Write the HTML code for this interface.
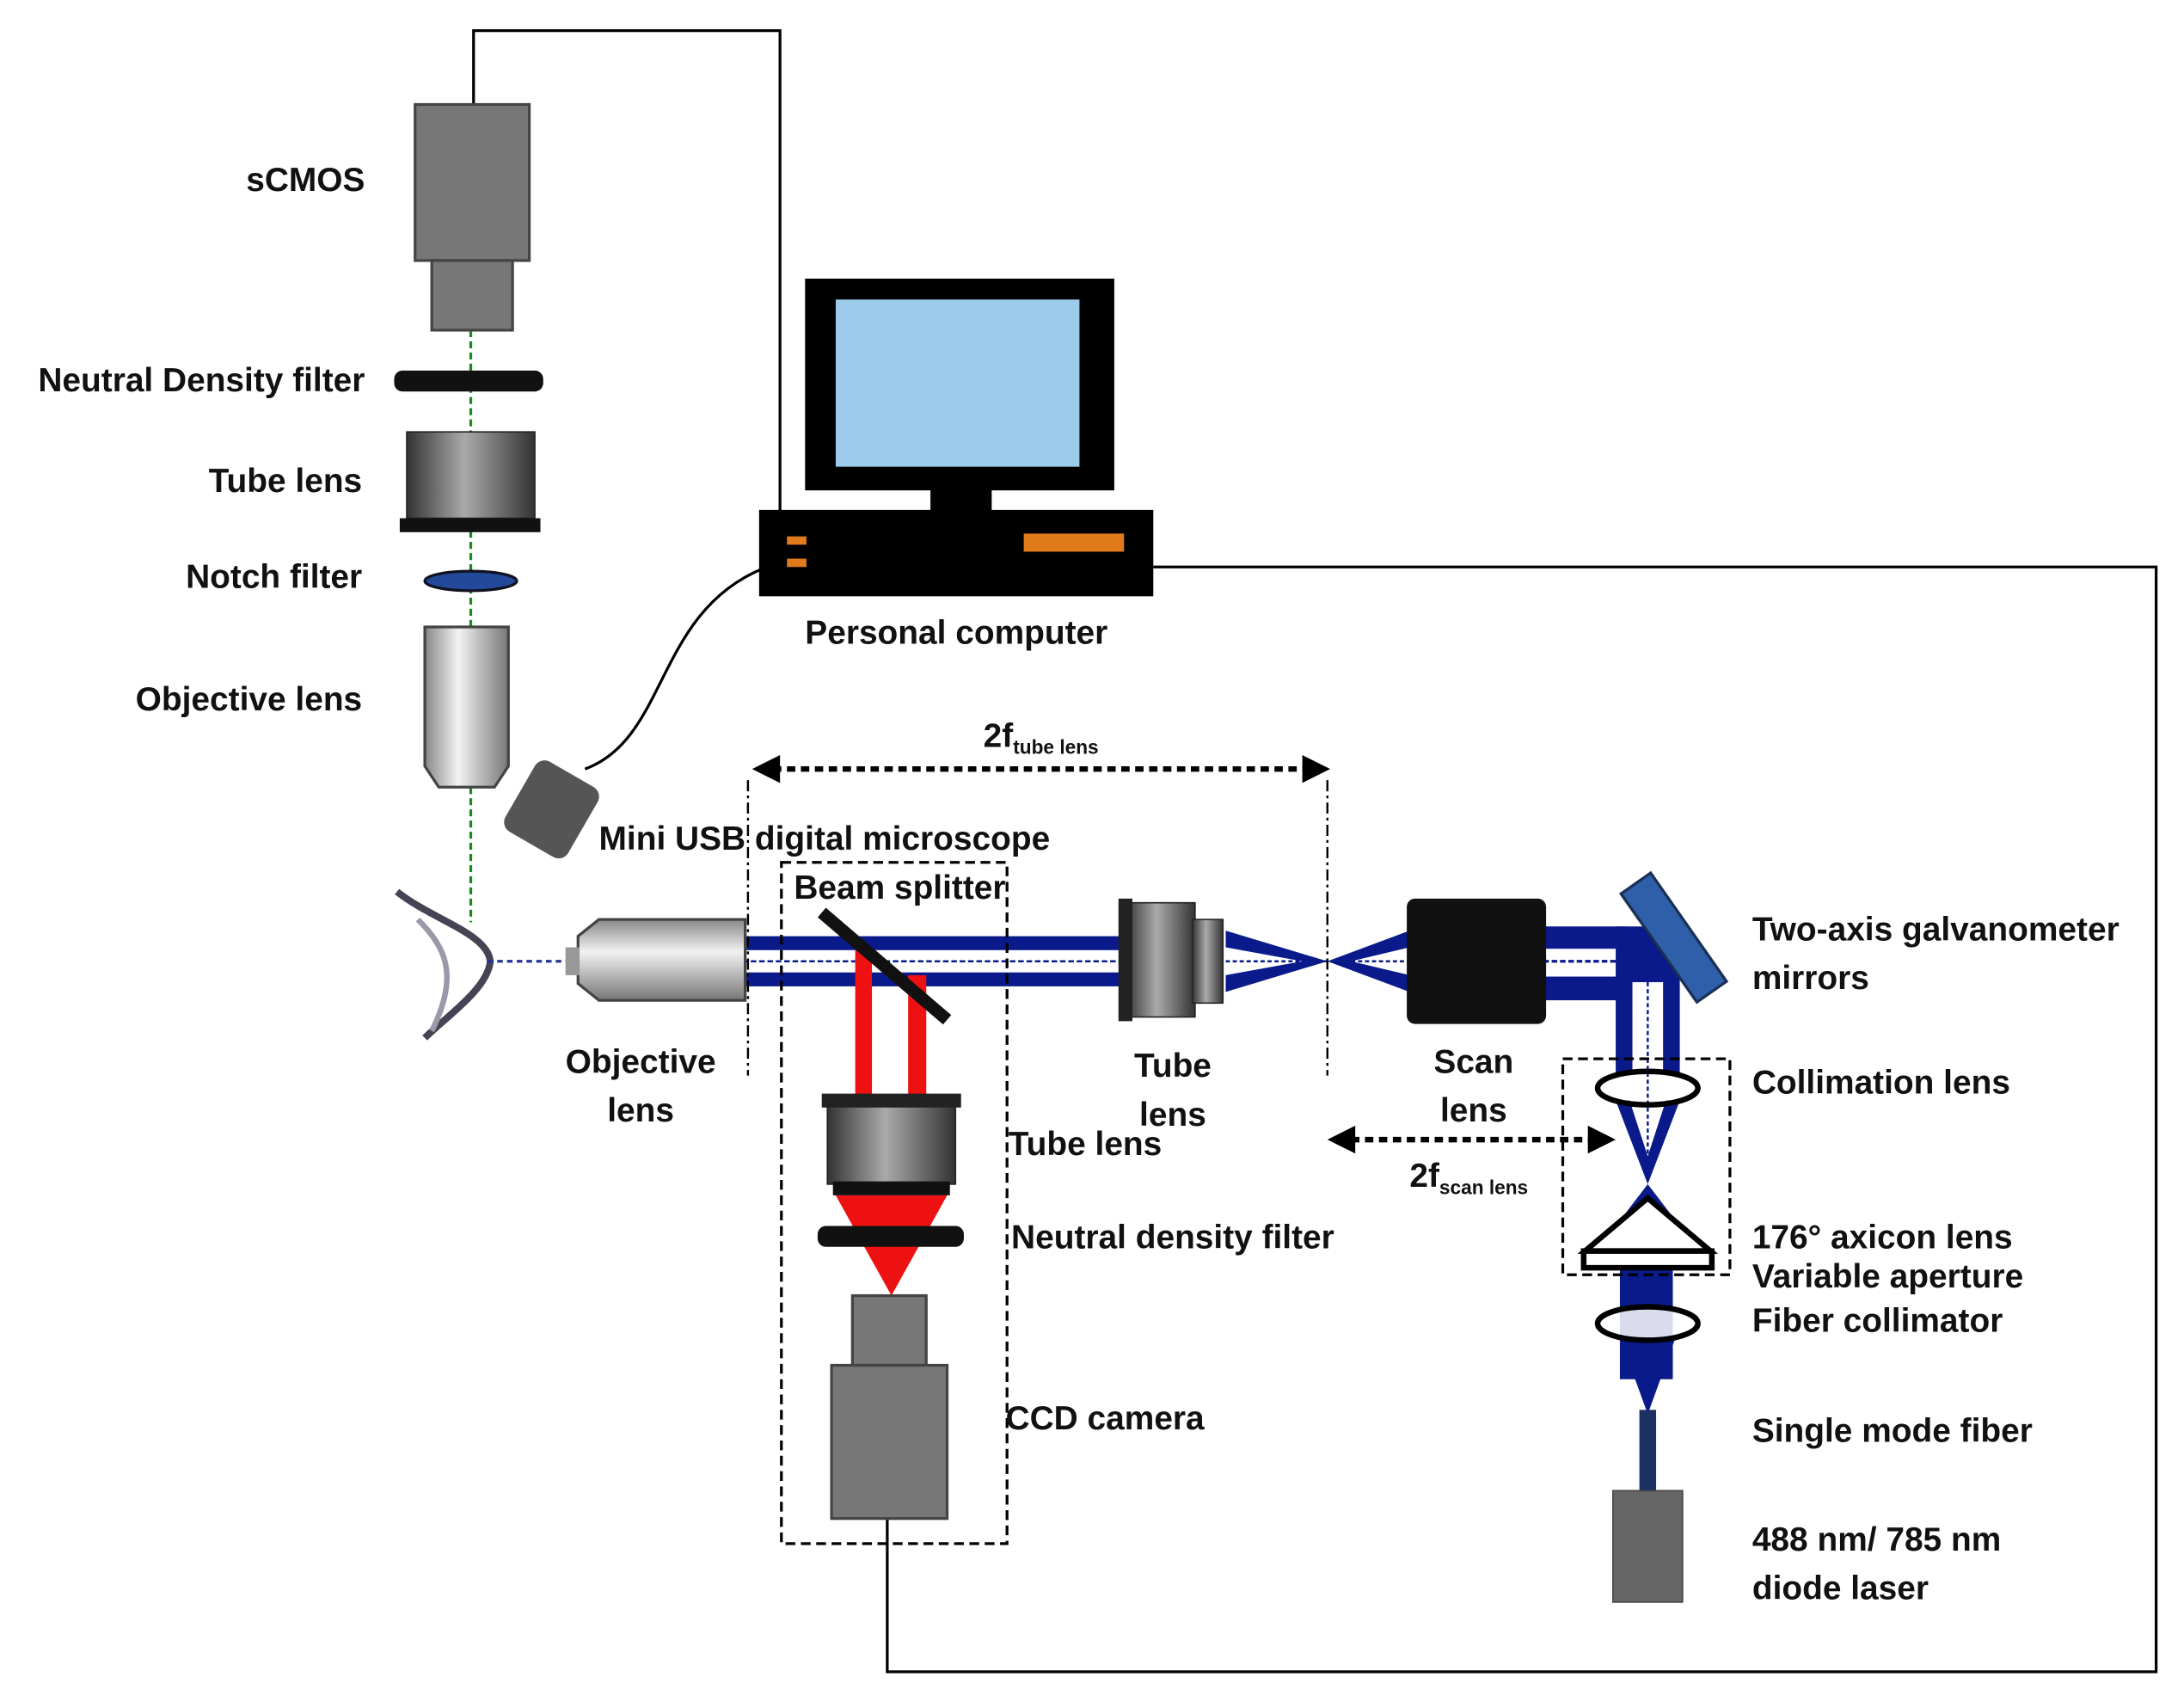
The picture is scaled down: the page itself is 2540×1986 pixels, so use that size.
<!DOCTYPE html>
<html><head><meta charset="utf-8"><style>
html,body{margin:0;padding:0;background:#fff}
svg{display:block}
text{font-family:"Liberation Sans",sans-serif;font-weight:bold;font-size:24px;fill:#111}
</style></head><body>
<svg width="2540" height="1986" viewBox="0 0 1568 1226" preserveAspectRatio="none" xmlns="http://www.w3.org/2000/svg">
<defs>
<linearGradient id="g1" x1="0" x2="1" y1="0" y2="0">
<stop offset="0" stop-color="#333"/><stop offset="0.45" stop-color="#aaa"/><stop offset="1" stop-color="#333"/></linearGradient>
<linearGradient id="g2" x1="0" x2="1" y1="0" y2="0">
<stop offset="0" stop-color="#888"/><stop offset="0.4" stop-color="#f2f2f2"/><stop offset="1" stop-color="#777"/></linearGradient>
<linearGradient id="g3" x1="0" x2="0" y1="0" y2="1">
<stop offset="0" stop-color="#888"/><stop offset="0.4" stop-color="#f2f2f2"/><stop offset="1" stop-color="#777"/></linearGradient>
<linearGradient id="g4" x1="0" x2="1" y1="0" y2="0">
<stop offset="0" stop-color="#333"/><stop offset="0.45" stop-color="#aaa"/><stop offset="1" stop-color="#333"/></linearGradient>
</defs>
<!-- wires -->
<polyline points="340,75 340,22 560,22 560,372" fill="none" stroke="#000" stroke-width="2"/>
<polyline points="828,407 1548,407 1548,1200 637,1200 637,1090" fill="none" stroke="#000" stroke-width="2"/>
<path d="M420,552 C480,530 470,440 548,408" fill="none" stroke="#000" stroke-width="2"/>
<!-- sCMOS column -->
<line x1="338" y1="237" x2="338" y2="662" stroke="#1a8a1a" stroke-width="2" stroke-dasharray="5,3"/>
<rect x="298" y="75" width="82" height="112" fill="#777" stroke="#444" stroke-width="2"/>
<rect x="310" y="187" width="58" height="50" fill="#777" stroke="#444" stroke-width="2"/>
<rect x="283" y="266" width="107" height="15" rx="6" fill="#111"/>
<rect x="292" y="310" width="92" height="62" fill="url(#g1)" stroke="#222"/>
<rect x="287" y="372" width="101" height="10" fill="#111"/>
<ellipse cx="338" cy="417" rx="33" ry="7" fill="#234a9a" stroke="#112" stroke-width="2"/>
<path d="M305,450 h60 v100 l-10,15 h-40 l-10,-15 z" fill="url(#g2)" stroke="#444" stroke-width="2"/>
<rect x="370" y="552" width="52" height="58" rx="8" fill="#555" transform="rotate(30 396 581)"/>
<!-- computer -->
<rect x="578" y="200" width="222" height="152" fill="#000"/>
<rect x="600" y="215" width="175" height="120" fill="#9ccbec"/>
<rect x="668" y="350" width="44" height="18" fill="#000"/>
<rect x="545" y="366" width="283" height="62" fill="#000"/>
<rect x="565" y="385" width="14" height="6" fill="#e07a1a"/>
<rect x="565" y="401" width="14" height="6" fill="#e07a1a"/>
<rect x="735" y="383" width="72" height="13" fill="#e07a1a"/>
<!-- eye -->
<path d="M285,640 C310,660 350,670 352,690 C350,710 320,730 305,745" fill="none" stroke="#445" stroke-width="5"/>
<path d="M300,660 C320,680 330,700 310,740" fill="none" stroke="#99a" stroke-width="4"/>
<line x1="350" y1="690" x2="410" y2="690" stroke="#223399" stroke-width="2" stroke-dasharray="4,3"/>
<!-- horizontal beam -->
<rect x="533" y="672" width="275" height="36" fill="#0a1a8a"/>
<rect x="533" y="682" width="275" height="16" fill="#fff"/>
<line x1="533" y1="690" x2="808" y2="690" stroke="#0a1a8a" stroke-width="1.5" stroke-dasharray="4,2"/>
<path d="M880,668 L953,690 L880,712 L880,700 L935,690 L880,680 z" fill="#0a1a8a"/>
<path d="M1012,668 L953,690 L1012,712 L1012,700 L970,690 L1012,680 z" fill="#0a1a8a"/>
<line x1="880" y1="690" x2="1012" y2="690" stroke="#0a1a8a" stroke-width="1.5" stroke-dasharray="3,2"/>
<rect x="1108" y="665" width="60" height="53" fill="#0a1a8a"/>
<rect x="1108" y="681" width="60" height="20" fill="#fff"/>
<line x1="1108" y1="690" x2="1168" y2="690" stroke="#0a1a8a" stroke-width="2" stroke-dasharray="4,2"/>
<!-- vertical beam down from galvo -->
<rect x="1160" y="665" width="46" height="105" fill="#0a1a8a"/>
<rect x="1172" y="705" width="22" height="70" fill="#fff"/>
<line x1="1183" y1="700" x2="1183" y2="850" stroke="#0a1a8a" stroke-width="1.5" stroke-dasharray="3,2"/>
<path d="M1160,790 L1183,850 L1206,790 L1196,790 L1183,830 L1170,790 z" fill="#0a1a8a"/>
<path d="M1183,850 L1160,880 L1206,880 z" fill="#0a1a8a"/>
<rect x="1163" y="910" width="38" height="80" fill="#0a1a8a"/>
<path d="M1163,960 L1183,1015 L1203,960 z" fill="#0a1a8a"/>
<rect x="1177" y="1012" width="12" height="60" fill="#1a3060"/>
<!-- objective horizontal -->
<path d="M430,660 h105 v58 h-105 l-15,-12 v-34 z" fill="url(#g3)" stroke="#444" stroke-width="2"/>
<rect x="406" y="680" width="10" height="20" fill="#999"/>
<!-- dashed verticals -->
<line x1="537" y1="560" x2="537" y2="772" stroke="#000" stroke-width="1.5" stroke-dasharray="8,3,2,3"/>
<line x1="953" y1="560" x2="953" y2="772" stroke="#000" stroke-width="1.5" stroke-dasharray="8,3,2,3"/>
<!-- arrows -->
<line x1="555" y1="552" x2="940" y2="552" stroke="#000" stroke-width="4" stroke-dasharray="6,4"/>
<path d="M540,552 l20,-10 v20 z M955,552 l-20,-10 v20 z" fill="#000"/>
<line x1="970" y1="818" x2="1145" y2="818" stroke="#000" stroke-width="4" stroke-dasharray="6,4"/>
<path d="M953,818 l20,-10 v20 z M1160,818 l-20,-10 v20 z" fill="#000"/>
<!-- dashed box left -->
<rect x="561" y="619" width="162" height="489" fill="none" stroke="#000" stroke-width="2" stroke-dasharray="7,4"/>
<!-- red beams -->
<rect x="614" y="680" width="12" height="110" fill="#ee1111"/>
<rect x="652" y="700" width="13" height="90" fill="#ee1111"/>
<path d="M600,858 L680,858 L640,930 z" fill="#ee1111"/>
<line x1="590" y1="655" x2="680" y2="732" stroke="#111" stroke-width="9"/>
<rect x="594" y="788" width="92" height="62" fill="url(#g1)" stroke="#222"/>
<rect x="590" y="785" width="100" height="10" fill="#222"/>
<rect x="598" y="848" width="84" height="10" fill="#111"/>
<rect x="587" y="880" width="105" height="15" rx="6" fill="#111"/>
<rect x="612" y="930" width="53" height="50" fill="#777" stroke="#444" stroke-width="2"/>
<rect x="597" y="980" width="83" height="110" fill="#777" stroke="#444" stroke-width="2"/>
<!-- tube lens horizontal -->
<rect x="808" y="648" width="50" height="82" fill="url(#g4)" stroke="#222"/>
<rect x="803" y="645" width="10" height="88" fill="#222"/>
<rect x="856" y="660" width="22" height="60" fill="url(#g4)" stroke="#222"/>
<!-- scan lens -->
<rect x="1010" y="645" width="100" height="90" rx="6" fill="#111"/>
<!-- galvo mirror -->
<rect x="1150" y="650" width="95" height="26" fill="#2f5fa8" stroke="#1a2f55" stroke-width="2" transform="rotate(55 1190 672)"/>
<!-- dashed box right -->
<rect x="1122" y="760" width="120" height="155" fill="none" stroke="#000" stroke-width="2" stroke-dasharray="7,4"/>
<ellipse cx="1183" cy="781" rx="36" ry="12" fill="none" stroke="#000" stroke-width="4"/>
<path d="M1183,860 L1138,898 L1228,898 z" fill="#fff" stroke="#000" stroke-width="4"/>
<rect x="1137" y="898" width="92" height="12" fill="#fff" stroke="#000" stroke-width="4"/>
<ellipse cx="1183" cy="950" rx="36" ry="12" fill="#fff" fill-opacity="0.85" stroke="#000" stroke-width="4"/>
<rect x="1158" y="1070" width="50" height="80" fill="#666" stroke="#444"/>
<!-- labels -->
<text x="262" y="137" text-anchor="end">sCMOS</text>
<text x="262" y="281" text-anchor="end">Neutral Density filter</text>
<text x="260" y="353" text-anchor="end">Tube lens</text>
<text x="260" y="422" text-anchor="end">Notch filter</text>
<text x="260" y="510" text-anchor="end">Objective lens</text>
<text x="578" y="462">Personal computer</text>
<text x="706" y="536">2f<tspan font-size="14" dy="5">tube lens</tspan></text>
<text x="430" y="610">Mini USB digital microscope</text>
<text x="570" y="645">Beam splitter</text>
<text x="460" y="770" text-anchor="middle">Objective</text>
<text x="460" y="805" text-anchor="middle">lens</text>
<text x="842" y="773" text-anchor="middle">Tube</text>
<text x="842" y="808" text-anchor="middle">lens</text>
<text x="1058" y="770" text-anchor="middle">Scan</text>
<text x="1058" y="805" text-anchor="middle">lens</text>
<text x="724" y="829">Tube lens</text>
<text x="726" y="896">Neutral density filter</text>
<text x="722" y="1026">CCD camera</text>
<text x="1012" y="852">2f<tspan font-size="14" dy="5">scan lens</tspan></text>
<text x="1258" y="675">Two-axis galvanometer</text>
<text x="1258" y="710">mirrors</text>
<text x="1258" y="785">Collimation lens</text>
<text x="1258" y="896">176° axicon lens</text>
<text x="1258" y="924">Variable aperture</text>
<text x="1258" y="956">Fiber collimator</text>
<text x="1258" y="1035">Single mode fiber</text>
<text x="1258" y="1113">488 nm/ 785 nm</text>
<text x="1258" y="1148">diode laser</text>
</svg>
</body></html>
